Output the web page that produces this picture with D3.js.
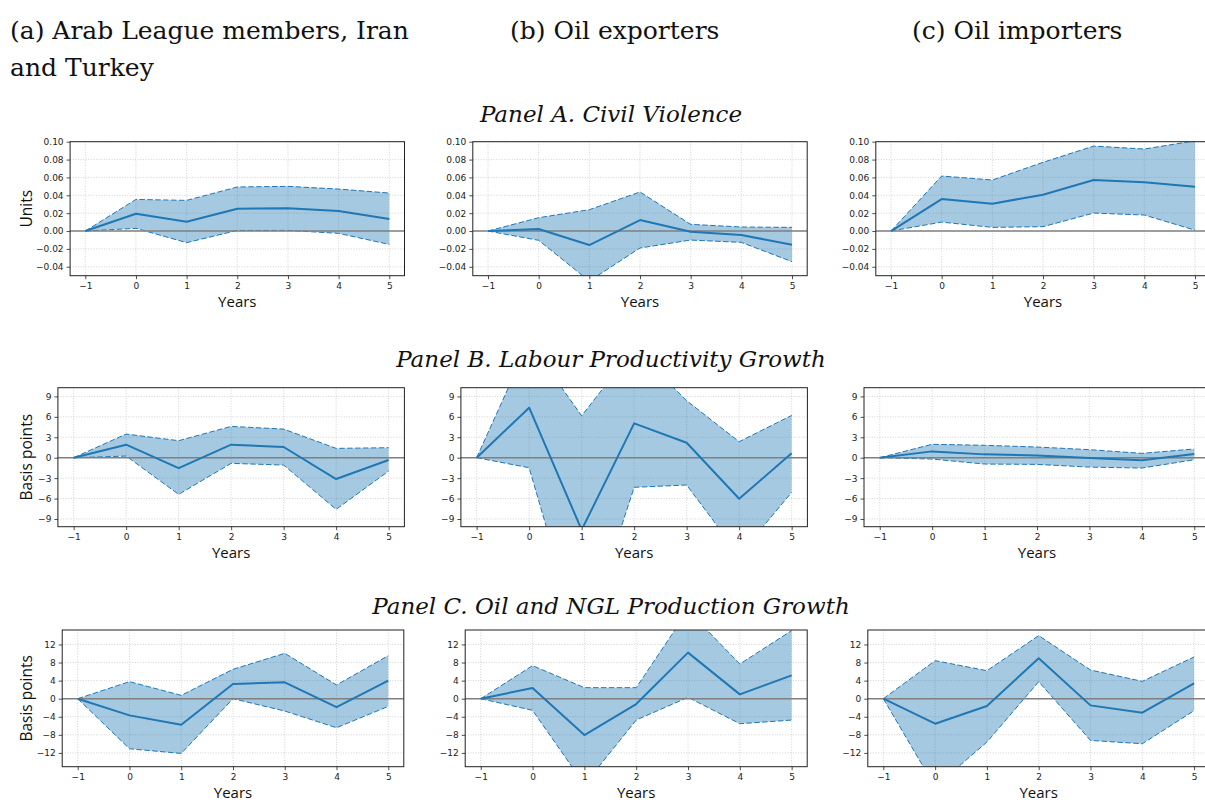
<!DOCTYPE html>
<html>
<head>
<meta charset="utf-8">
<script src="https://cdn.jsdelivr.net/npm/d3@7"></script>
<style>
  html, body { margin: 0; padding: 0; background: #fff; }
  svg { display: block; }
</style>
</head>
<body>
<svg id="fig" width="1205" height="802"></svg>
<script>
// Event-study responses, horizon in years relative to the event
const years = [-1, 0, 1, 2, 3, 4, 5];

// Panel A. Civil violence (units)
const civilArabMean  = [0, 0.0194, 0.0104, 0.0250, 0.0254, 0.0224, 0.0134];
const civilArabUpper = [0, 0.0354, 0.0343, 0.0493, 0.0500, 0.0470, 0.0425];
const civilArabLower = [0, 0.0030, -0.0130, 0.0007, 0.0007, -0.0026, -0.0150];

const civilExpMean  = [0, 0.0022, -0.0157, 0.0123, -0.0007, -0.0045, -0.0153];
const civilExpUpper = [0, 0.0149, 0.0239, 0.0437, 0.0075, 0.0045, 0.0041];
const civilExpLower = [0, -0.0104, -0.0560, -0.0190, -0.0101, -0.0127, -0.0343];

const civilImpMean  = [0, 0.0358, 0.0306, 0.0407, 0.0571, 0.0545, 0.0496];
const civilImpUpper = [0, 0.0616, 0.0571, 0.0769, 0.0951, 0.0918, 0.1010];
const civilImpLower = [0, 0.0100, 0.0041, 0.0049, 0.0201, 0.0179, 0.0010];

// Panel B. Labour productivity growth (basis points)
const prodArabMean  = [0, 1.91, -1.52, 1.91, 1.57, -3.13, -0.34];
const prodArabUpper = [0, 3.47, 2.50, 4.60, 4.20, 1.37, 1.47];
const prodArabLower = [0, 0.24, -5.38, -0.83, -1.08, -7.58, -1.96];

const prodExpMean  = [0, 7.34, -10.6, 5.04, 2.20, -6.02, 0.64];
const prodExpUpper = [0, 17.0, 6.16, 16.0, 8.37, 2.35, 6.21];
const prodExpLower = [0, -1.47, -28.0, -4.35, -4.01, -14.3, -5.09];

const prodImpMean  = [0, 0.93, 0.49, 0.34, -0.05, -0.39, 0.54];
const prodImpUpper = [0, 1.97, 1.82, 1.57, 1.18, 0.64, 1.28];
const prodImpLower = [0, -0.20, -0.93, -0.98, -1.38, -1.52, -0.30];

// Panel C. Oil and NGL production growth (basis points)
const oilArabMean  = [0, -3.69, -5.76, 3.25, 3.62, -1.85, 3.99];
const oilArabUpper = [0, 3.77, 0.74, 6.50, 10.04, 3.03, 9.53];
const oilArabLower = [0, -11.08, -12.11, 0.00, -2.73, -6.43, -1.70];

const oilExpMean  = [0, 2.36, -8.05, -1.18, 10.19, 0.96, 5.17];
const oilExpUpper = [0, 7.31, 2.44, 2.44, 19.5, 7.68, 15.07];
const oilExpLower = [0, -2.58, -19.0, -4.73, 0.30, -5.54, -4.73];

const oilImpMean  = [0, -5.54, -1.62, 8.94, -1.48, -3.10, 3.40];
const oilImpUpper = [0, 8.42, 6.20, 13.96, 6.35, 3.84, 9.23];
const oilImpLower = [0, -19.5, -9.60, 3.77, -9.23, -9.97, -2.66];

// Tick labels
const yearTicks = [-1, 0, 1, 2, 3, 4, 5];
const civilTicks = [-0.04, -0.02, 0.00, 0.02, 0.04, 0.06, 0.08, 0.10];
const prodTicks = [-9, -6, -3, 0, 3, 6, 9];
const oilTicks = [-12, -8, -4, 0, 4, 8, 12];

// Titles
const columnTitles = [["(a) Arab League members, Iran", "and Turkey"], ["(b) Oil exporters"], ["(c) Oil importers"]];
const panelTitles = ["Panel A. Civil Violence", "Panel B. Labour Productivity Growth", "Panel C. Oil and NGL Production Growth"];
const rowYLabels = ["Units", "Basis points", "Basis points"];

const BLUE = "#1f77b4";
const svg = d3.select("#fig");
const serif = "'DejaVu Serif', serif";
const sans = "'DejaVu Sans', sans-serif";
const labelFont = "'Open Sans', sans-serif";

// Figure layout: rows of axes boxes
const rows = [
  { top: 141.7, bottom: 275.7, domain: [-0.05, 0.10], ticks: civilTicks, fmt: d3.format(".2f"),
    lefts: [70.1, 472.8, 875.8], rights: [404.5, 807.2, 1210.2],
    series: [[civilArabMean, civilArabUpper, civilArabLower],
             [civilExpMean, civilExpUpper, civilExpLower],
             [civilImpMean, civilImpUpper, civilImpLower]] },
  { top: 387.7, bottom: 526.7, domain: [-10.13, 10.28], ticks: prodTicks, fmt: d3.format("d"),
    lefts: [57.9, 460.9, 864.0], rights: [404.4, 807.4, 1210.0],
    series: [[prodArabMean, prodArabUpper, prodArabLower],
             [prodExpMean, prodExpUpper, prodExpLower],
             [prodImpMean, prodImpUpper, prodImpLower]] },
  { top: 630.0, bottom: 766.7, domain: [-15.05, 15.2], ticks: oilTicks, fmt: d3.format("d"),
    lefts: [62.2, 465.2, 867.8], rights: [403.8, 807.2, 1209.6],
    series: [[oilArabMean, oilArabUpper, oilArabLower],
             [oilExpMean, oilExpUpper, oilExpLower],
             [oilImpMean, oilImpUpper, oilImpLower]] }
];
const panelTitleY = [122, 367, 614];

// Column titles
const colTitleX = [10, 510, 912];
columnTitles.forEach((lines, i) => {
  lines.forEach((t, j) => {
    svg.append("text")
      .attr("x", colTitleX[i]).attr("y", 39 + j * 37)
      .attr("font-family", serif).attr("font-size", 25)
      .attr("fill", "#111").text(t);
  });
});

// Panel headings
panelTitles.forEach((t, i) => {
  svg.append("text")
    .attr("x", 611).attr("y", panelTitleY[i])
    .attr("text-anchor", "middle")
    .attr("font-family", serif).attr("font-style", "italic").attr("font-size", 23)
    .attr("fill", "#111").text(t);
});

const minus = s => s.replace(/^-/, "\u2212");
let clipId = 0;

rows.forEach((row, r) => {
  row.series.forEach((ser, c) => {
    const [mean, upper, lower] = ser;
    const left = row.lefts[c], right = row.rights[c];
    const x = d3.scaleLinear().domain([-1.3, 5.3]).range([left, right]);
    const y = d3.scaleLinear().domain(row.domain).range([row.bottom, row.top]);
    const g = svg.append("g");

    const id = "clip" + (clipId++);
    g.append("clipPath").attr("id", id)
      .append("rect").attr("x", left).attr("y", row.top)
      .attr("width", right - left).attr("height", row.bottom - row.top);

    // dotted grid
    const grid = g.append("g").attr("stroke", "#c8c8c8").attr("stroke-width", 0.8)
      .attr("stroke-dasharray", "1,1.6");
    yearTicks.forEach(t => grid.append("line")
      .attr("x1", x(t)).attr("x2", x(t)).attr("y1", row.top).attr("y2", row.bottom));
    row.ticks.forEach(t => grid.append("line")
      .attr("x1", left).attr("x2", right).attr("y1", y(t)).attr("y2", y(t)));

    const plot = g.append("g").attr("clip-path", `url(#${id})`);
    const pts = years.map((yr, i) => ({ yr, m: mean[i], u: upper[i], l: lower[i] }));

    // confidence band
    plot.append("path").datum(pts)
      .attr("fill", BLUE).attr("fill-opacity", 0.4)
      .attr("d", d3.area().x(d => x(d.yr)).y0(d => y(d.l)).y1(d => y(d.u)));

    // band edges, dashed
    ["u", "l"].forEach(k => {
      plot.append("path").datum(pts)
        .attr("fill", "none").attr("stroke", BLUE).attr("stroke-width", 1)
        .attr("stroke-dasharray", "5.5,2.4")
        .attr("d", d3.line().x(d => x(d.yr)).y(d => y(d[k])));
    });

    // zero reference line
    plot.append("line")
      .attr("x1", left).attr("x2", right).attr("y1", y(0)).attr("y2", y(0))
      .attr("stroke", "#808080").attr("stroke-width", 1.5);

    // point estimate
    plot.append("path").datum(pts)
      .attr("fill", "none").attr("stroke", BLUE).attr("stroke-width", 2)
      .attr("stroke-linejoin", "round")
      .attr("d", d3.line().x(d => x(d.yr)).y(d => y(d.m)));

    // axes
    const xAxis = g.append("g").attr("transform", `translate(0,${row.bottom})`)
      .call(d3.axisBottom(x).tickValues(yearTicks).tickSize(3.5).tickPadding(3)
        .tickFormat(d => minus(String(d))));
    const yAxis = g.append("g").attr("transform", `translate(${left},0)`)
      .call(d3.axisLeft(y).tickValues(row.ticks).tickSize(3.5).tickPadding(3)
        .tickFormat(d => minus(row.fmt(d))));
    [xAxis, yAxis].forEach(a => {
      a.select(".domain").remove();
      a.selectAll(".tick line").attr("stroke", "#222").attr("stroke-width", 0.8);
      a.selectAll(".tick text").attr("font-family", sans).attr("font-size", 9).attr("fill", "#222");
    });

    // frame
    g.append("rect").attr("x", left).attr("y", row.top)
      .attr("width", right - left).attr("height", row.bottom - row.top)
      .attr("fill", "none").attr("stroke", "#222").attr("stroke-width", 1);

    // axis labels
    g.append("text")
      .attr("x", (left + right) / 2).attr("y", row.bottom + 31.5)
      .attr("text-anchor", "middle").attr("font-family", labelFont).attr("font-size", 15)
      .attr("fill", "#111").text("Years");
    if (c === 0) {
      g.append("text")
        .attr("transform", `translate(32,${(row.top + row.bottom) / 2}) rotate(-90)`)
        .attr("text-anchor", "middle").attr("font-family", labelFont).attr("font-size", 15.5)
        .attr("fill", "#111").text(rowYLabels[r]);
    }
  });
});
</script>
</body>
</html>
